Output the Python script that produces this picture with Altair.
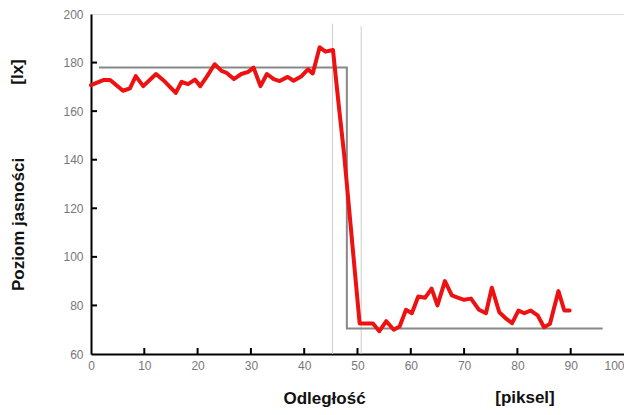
import altair as alt
import pandas as pd

# Measured brightness profile (red line)
red_x = [0, 2.3, 3.6, 6, 7.3, 8.4, 9.8, 12.2, 13.9, 15.9, 17, 18.2, 19.5, 20.5, 21.7,
         23.2, 24.5, 25.4, 26.8, 28.2, 29.5, 30.5, 31.8, 33, 34.3, 35.4, 36.9, 38, 39.5,
         40.7, 41.6, 42.9, 44, 45.4, 46.5, 47.5, 48.5, 49.5, 50.4, 52.9, 54.1, 55.4, 56.8,
         57.9, 59.1, 60.2, 61.4, 62.7, 63.9, 65, 66.4, 67.7, 68.8, 70, 71.3, 72.8, 74.1,
         75.2, 76.6, 77.7, 79, 80.2, 81.3, 82.5, 83.8, 85, 86.1, 87.7, 88.8, 89.8]
red_y = [170.7, 172.8, 172.8, 168.4, 169.4, 174.4, 170.3, 175.3, 172.1, 167.5, 172.1, 171.1,
         173, 170.3, 174.1, 179.3, 176.6, 175.8, 173.2, 175.3, 176.2, 177.9, 170.3, 175.3,
         173.2, 172.4, 174.1, 172.5, 174.4, 177.2, 175.5, 186.3, 184.5, 185.2, 162, 142,
         118, 94, 72.6, 72.6, 69.4, 73.5, 70, 71.3, 78.2, 76.8, 83.7, 83.2, 86.9, 80, 90,
         84.1, 83.2, 82.3, 82.8, 78.2, 76.8, 87.3, 77.2, 74.9, 72.7, 77.9, 76.8, 77.9,
         75.9, 71, 72.4, 85.9, 77.9, 77.9]

# Ideal edge (gray step line)
step_x = [1.5, 48, 48, 96]
step_y = [178, 178, 70.5, 70.5]

# Light vertical guide lines
guide_x = [45.3, 50.7]
guide_top = [196, 195]

y_ticks = [80, 100, 120, 140, 160, 180]
x_ticks = [10, 20, 30, 40, 50, 60, 70, 80, 90]

red_df = pd.DataFrame({"x": red_x, "y": red_y, "i": range(len(red_x))})
step_df = pd.DataFrame({"x": step_x, "y": step_y, "i": range(len(step_x))})
guide_df = pd.DataFrame({"x": guide_x, "top": guide_top, "bottom": [60, 60]})
ytick_df = pd.DataFrame({"v": y_ticks})
xtick_df = pd.DataFrame({"v": x_ticks})

FONT = "Liberation Sans"
xscale = alt.Scale(domain=[0, 100], nice=False, zero=False)
yscale = alt.Scale(domain=[60, 200], nice=False, zero=False)

xaxis = alt.Axis(values=list(range(0, 101, 10)), ticks=False, grid=False,
                 labelFlush=False, labelOverlap=False, labelBound=False,
                 labelAlign=alt.expr("datum.value == 100 ? 'right' : 'center'"),
                 domainColor="black", domainWidth=2, labelColor="#777777",
                 labelFont=FONT, labelFontSize=12, labelPadding=6,
                 title="Odległość", titleFont=FONT, titleFontSize=17,
                 titleFontWeight="bold", titleColor="#111111",
                 titleX=233, titleY=44, titleBaseline="middle")
yaxis = alt.Axis(values=list(range(60, 201, 20)), ticks=False, grid=False,
                 labelFlush=False, labelOverlap=False, labelBound=False,
                 domainColor="black", domainWidth=2, labelColor="#777777",
                 labelFont=FONT, labelFontSize=12, labelPadding=8,
                 title="Poziom jasności", titleFont=FONT, titleFontSize=17,
                 titleFontWeight="bold", titleColor="#111111",
                 titleX=-73, titleY=210, titleAngle=-90, titleBaseline="middle")

guides = alt.Chart(guide_df).mark_rule(color="#cccccc", strokeWidth=1).encode(
    x=alt.X("x:Q", scale=xscale, axis=xaxis),
    y=alt.Y("top:Q", scale=yscale, axis=yaxis),
    y2="bottom:Q",
)

step = alt.Chart(step_df).mark_line(color="#888888", strokeWidth=2).encode(
    x=alt.X("x:Q", scale=xscale),
    y=alt.Y("y:Q", scale=yscale),
    order="i:Q",
)

red = alt.Chart(red_df).mark_line(color="#ee1111", strokeWidth=4,
                                  strokeJoin="round", strokeCap="round").encode(
    x=alt.X("x:Q", scale=xscale),
    y=alt.Y("y:Q", scale=yscale),
    order="i:Q",
)

yticks = alt.Chart(ytick_df).mark_rule(color="black", strokeWidth=2).encode(
    y=alt.Y("v:Q", scale=yscale), x=alt.value(0), x2=alt.value(6)
)
xticks = alt.Chart(xtick_df).mark_rule(color="black", strokeWidth=2).encode(
    x=alt.X("v:Q", scale=xscale), y=alt.value(340), y2=alt.value(334)
)

lx = alt.Chart(pd.DataFrame({"t": ["[lx]"]})).mark_text(
    angle=270, font=FONT, fontSize=17, fontWeight="bold", color="#111111",
    baseline="middle", align="center"
).encode(text="t:N", x=alt.value(-73), y=alt.value(58))

px = alt.Chart(pd.DataFrame({"t": ["[piksel]"]})).mark_text(
    font=FONT, fontSize=17, fontWeight="bold", color="#111111",
    baseline="middle", align="center"
).encode(text="t:N", x=alt.value(434), y=alt.value(384))

chart = alt.layer(guides, step, red, yticks, xticks, lx, px).properties(
    width=533, height=340,
    autosize=alt.AutoSizeParams(type="none"),
    padding={"left": 83, "top": 6, "right": 0, "bottom": 53},
).configure_view(stroke=None).configure(background="white")

chart.save("out.html", embed_options={"renderer": "svg", "actions": False})
